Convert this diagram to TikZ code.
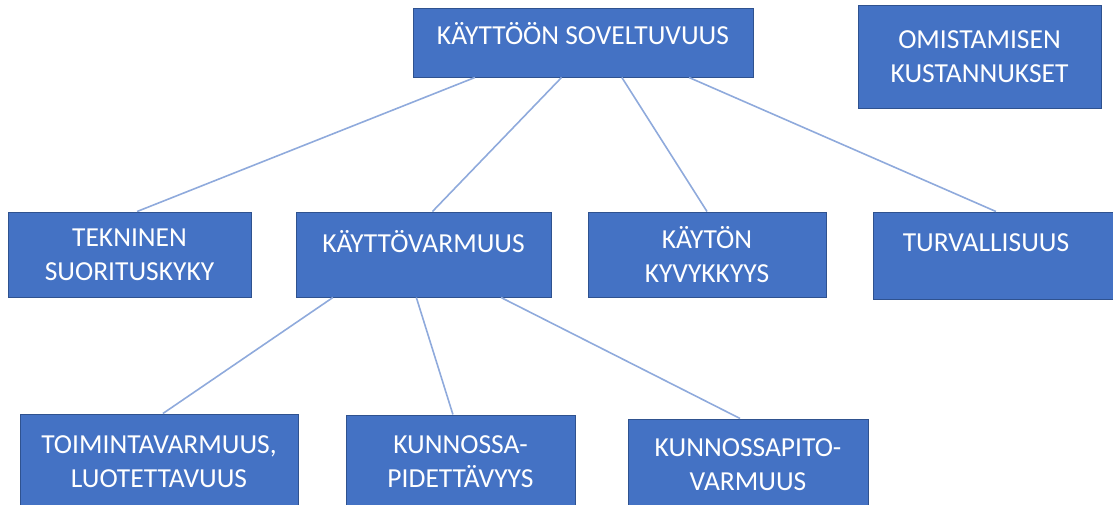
\documentclass[tikz,border=0pt]{standalone}
\usepackage{fontspec}
\setsansfont{Carlito}
\usepackage{xcolor}
\usepackage{tikz}
\usetikzlibrary{calc}
\definecolor{boxblue}{HTML}{4472C4}
\definecolor{boxedge}{HTML}{2F528F}
\definecolor{linkblue}{HTML}{8FAADC}

\begin{document}
\begin{tikzpicture}[x=1pt,y=-1pt]
    \clip (0,0) rectangle (1113,504);
    \useasboundingbox (0,0) rectangle (1113,504);

    \tikzstyle{box}=[draw=boxedge,line width=1pt,fill=boxblue,text=white,align=center,
                     font=\sffamily\fontsize{27.5}{34}\selectfont,inner sep=0pt]
    \tikzstyle{link}=[draw=linkblue,line width=1.6pt]

    \node[box,minimum width=340,minimum height=69,text depth=18pt] (kso) at (583,42.5) {KÄYTTÖÖN SOVELTUVUUS};
    \node[box,minimum width=243,minimum height=103] (omk) at (979.5,56.5) {OMISTAMISEN\\KUSTANNUKSET};

    \node[box,minimum width=243,minimum height=85] (tek) at (129.5,254.5) {TEKNINEN\\SUORITUSKYKY};
    \node[box,minimum width=255,minimum height=85,text depth=27pt] (kvm) at (423.5,254.5) {KÄYTTÖVARMUUS};
    \node[box,minimum width=238,minimum height=85] (kyk) at (707,254.5) {KÄYTÖN\\KYVYKKYYS};
    \node[box,minimum width=242,minimum height=87,text depth=25pt] (tur) at (994,255.5) {TURVALLISUUS\hspace{16pt}};

    \node[box,minimum width=278,minimum height=96] (toi) at (159,462) {TOIMINTAVARMUUS,\\LUOTETTAVUUS};
    \node[box,minimum width=229,minimum height=94] (kup) at (460.5,462) {KUNNOSSA-\\PIDETTÄVYYS};
    \node[box,minimum width=240,minimum height=92] (kpv) at (748,465) {KUNNOSSAPITO-\\VARMUUS};

    \draw [link] ($(kso.south west)!0.183!(kso.south east)$) -- ($(tek.north west)!0.531!(tek.north east)$);
    \draw [link] ($(kso.south west)!0.437!(kso.south east)$) -- ($(kvm.north west)!0.535!(kvm.north east)$);
    \draw [link] ($(kso.south west)!0.614!(kso.south east)$) -- ($(kyk.north west)!0.5!(kyk.north east)$);
    \draw [link] ($(kso.south west)!0.811!(kso.south east)$) -- ($(tur.north west)!0.508!(tur.north east)$);

    \draw [link] ($(kvm.south west)!0.146!(kvm.south east)$) -- ($(toi.north west)!0.514!(toi.north east)$);
    \draw [link] ($(kvm.south west)!0.472!(kvm.south east)$) -- ($(kup.north west)!0.467!(kup.north east)$);
    \draw [link] ($(kvm.south west)!0.803!(kvm.south east)$) -- ($(kpv.north west)!0.467!(kpv.north east)$);
\end{tikzpicture}
\end{document}
